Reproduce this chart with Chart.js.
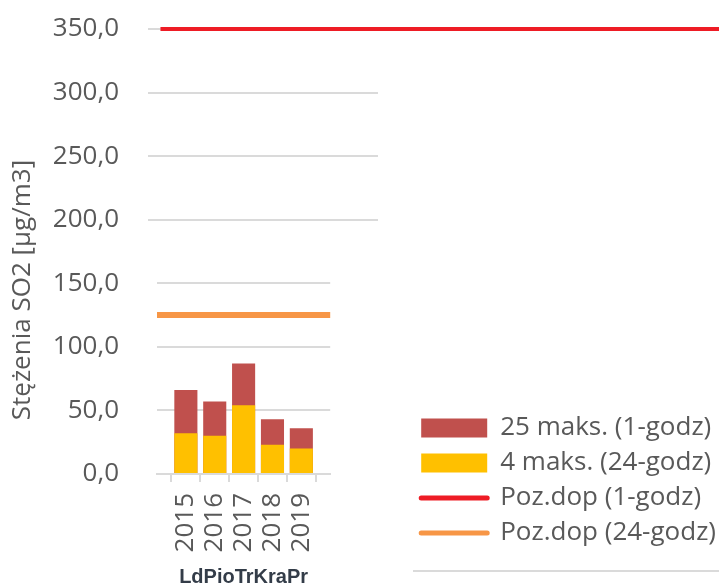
<!DOCTYPE html>
<html>
<head>
<meta charset="utf-8">
<script src="https://cdn.jsdelivr.net/npm/chart.js@4.4.1/dist/chart.umd.min.js"></script>
<style>
  html, body { margin: 0; padding: 0; background: #fff; overflow: hidden; }
  #wrap { position: relative; width: 719px; height: 587px; }
</style>
</head>
<body>
<div id="wrap"><canvas id="so2Chart"></canvas></div>
<script>
const years = ['2015', '2016', '2017', '2018', '2019'];
const max25Hourly = [66, 57, 87, 43, 36];   // 25 maks. (1-godz)
const max4Daily = [32, 30, 54, 23, 20];     // 4 maks. (24-godz)
const limitHourly = 350;
const limitDaily = 125;
const wideGridValues = [200, 250, 300, 350];
const yTitle = 'Stężenia SO2 [µg/m3]';
const xTitle = 'LdPioTrKraPr';

const grey = '#595959';
const gridGrey = '#dadada';
Chart.defaults.font.family = "'Open Sans', sans-serif";
Chart.defaults.font.size = 26;
Chart.defaults.color = grey;

// blank slots at both ends so the bars sit inside the axis line
const labels = ['', ...years, ''];
const pad = arr => [null, ...arr, null];

// extra decorations: longer gridlines for the upper values, y title
const decorPlugin = {
    id: 'decor',
    beforeDatasetsDraw(chart) {
        const ctx = chart.ctx;
        const y = chart.scales.y;
        ctx.save();
        ctx.strokeStyle = gridGrey;
        ctx.lineWidth = 2;
        wideGridValues.forEach(v => {
            const py = Math.round(y.getPixelForValue(v));
            ctx.beginPath();
            ctx.moveTo(148, py);
            ctx.lineTo(378, py);
            ctx.stroke();
        });
        ctx.beginPath();
        ctx.moveTo(413, 571);
        ctx.lineTo(719, 571);
        ctx.stroke();
        ctx.restore();
    },
    afterDraw(chart) {
        const ctx = chart.ctx;
        ctx.save();
        ctx.translate(23, 290);
        ctx.rotate(-Math.PI / 2);
        ctx.textAlign = 'center';
        ctx.textBaseline = 'middle';
        ctx.font = "26px 'Open Sans', sans-serif";
        ctx.fillStyle = grey;
        ctx.fillText(yTitle, 0, 0);
        ctx.restore();
    }
};

const ctx = document.getElementById('so2Chart').getContext('2d');
new Chart(ctx, {
    data: {
        labels: labels,
        datasets: [
            {
                type: 'bar',
                label: '25 maks. (1-godz)',
                data: pad(max25Hourly),
                backgroundColor: '#c0504d',
                grouped: false,
                order: 3
            },
            {
                type: 'bar',
                label: '4 maks. (24-godz)',
                data: pad(max4Daily),
                backgroundColor: '#ffc000',
                grouped: false,
                order: 2
            },
            {
                type: 'line',
                label: 'Poz.dop (1-godz)',
                data: [{ x: 0.02, y: limitHourly }, { x: 3.4, y: limitHourly }],
                xAxisID: 'xl',
                borderColor: '#ee1c25',
                borderWidth: 4,
                pointRadius: 0,
                clip: false,
                order: 1
            },
            {
                type: 'line',
                label: 'Poz.dop (24-godz)',
                data: [{ x: 0, y: limitDaily }, { x: 1, y: limitDaily }],
                xAxisID: 'xl',
                borderColor: '#f79646',
                borderWidth: 6,
                pointRadius: 0,
                clip: false,
                order: 0
            }
        ]
    },
    options: {
        responsive: true,
        maintainAspectRatio: false,
        animation: false,
        layout: { padding: { left: 0, top: 29, right: -7, bottom: 32 } },
        datasets: {
            bar: { categoryPercentage: 1, barPercentage: 0.8 }
        },
        scales: {
            x: {
                type: 'category',
                offset: false,
                grid: {
                    offset: true,
                    drawOnChartArea: false,
                    drawTicks: true,
                    tickLength: 8,
                    color: gridGrey,
                    lineWidth: 2
                },
                border: { display: true, color: gridGrey, width: 2 },
                ticks: {
                    minRotation: 90,
                    maxRotation: 90,
                    autoSkip: false,
                    padding: 11,
                    color: grey
                },
                title: {
                    display: true,
                    text: xTitle,
                    color: '#333c48',
                    font: { family: "'Liberation Sans', Arial, sans-serif", size: 20, weight: 'bold' },
                    padding: { top: 0, bottom: -34 }
                },
                afterFit(scale) {
                    scale.height = 81;
                    scale.paddingLeft = 0;
                    scale.paddingRight = 0;
                }
            },
            xl: {
                type: 'linear',
                display: false,
                min: 0,
                max: 1
            },
            y: {
                min: 0,
                max: 350,
                ticks: {
                    stepSize: 50,
                    padding: 38,
                    color: grey,
                    callback: v => v.toFixed(1).replace('.', ',')
                },
                grid: { color: gridGrey, lineWidth: 2, drawTicks: false },
                border: { display: false },
                afterFit(scale) {
                    scale.width = 157;
                    scale.paddingTop = 0;
                    scale.paddingBottom = 0;
                }
            },
            spacer: {
                type: 'linear',
                position: 'right',
                display: true,
                grid: { display: false },
                ticks: { display: false },
                border: { display: false },
                afterFit(scale) {
                    scale.width = 82;
                    scale.paddingTop = 0;
                    scale.paddingBottom = 0;
                }
            }
        },
        plugins: {
            legend: {
                position: 'right',
                align: 'end',
                maxWidth: 340,
                labels: {
                    usePointStyle: true,
                    pointStyleWidth: 66,
                    boxHeight: 19,
                    padding: 9,
                    color: grey,
                    font: { size: 26 },
                    sort: (a, b) => a.datasetIndex - b.datasetIndex,
                    generateLabels(chart) {
                        const items = Chart.defaults.plugins.legend.labels.generateLabels(chart);
                        items.forEach(item => {
                            const ds = chart.data.datasets[item.datasetIndex];
                            if (ds.type === 'line') {
                                item.pointStyle = 'line';
                                item.lineWidth = 5;
                                item.lineCap = 'round';
                                item.strokeStyle = ds.borderColor;
                            } else {
                                item.pointStyle = 'rect';
                                item.lineWidth = 0;
                            }
                        });
                        return items;
                    }
                }
            },
            tooltip: { enabled: false }
        }
    },
    plugins: [decorPlugin]
});
</script>
</body>
</html>
